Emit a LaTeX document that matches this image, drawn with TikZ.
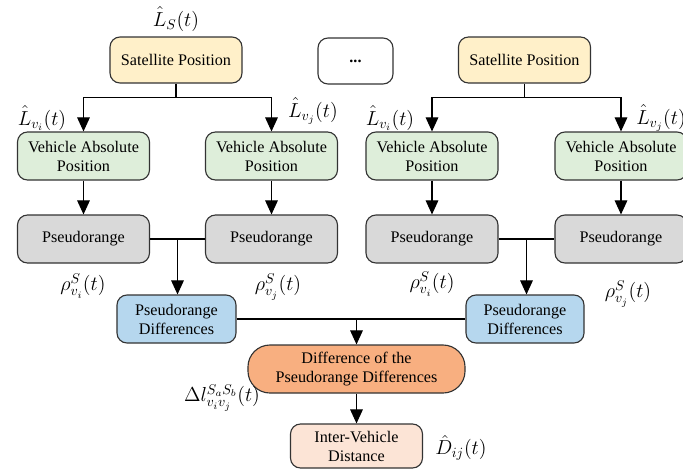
\documentclass[tikz,border=0pt]{standalone}
\usepackage{fontspec}
\setmainfont{Liberation Serif}
\usetikzlibrary{calc,arrows.meta}
\definecolor{satfill}{HTML}{FFF0C9}
\definecolor{vehfill}{HTML}{DEEEDA}
\definecolor{prfill}{HTML}{D9D9D9}
\definecolor{difffill}{HTML}{B6D7EE}
\definecolor{ddfill}{HTML}{F8AF80}
\definecolor{ivdfill}{HTML}{FCE4D6}
\tikzset{
	blk/.style={draw=black!80, line width=0.8pt, rounded corners=0.25cm, align=center,
		minimum width=3.3cm, minimum height=1.2cm, inner sep=1pt,
		font=\fontsize{11.5}{13.5}\selectfont},
	lbl/.style={inner sep=0pt, font=\fontsize{14}{16}\selectfont},
	arr/.style={line width=0.8pt, -{Triangle[width=9pt,length=10pt]}},
	ln/.style={line width=0.8pt}
}

\begin{document}
\begin{tikzpicture}[x=0.025cm, y=-0.025cm]
	%%%%% START %%%%%
	\useasboundingbox (0,0) rectangle (683,470);
	
	\node[blk, fill=satfill, minimum height=1.15cm] (sat1) at (176,60) {Satellite Position};
	\node[blk, fill=white, minimum width=1.875cm, minimum height=1.15cm] (dots) at (355.5,61) {\textbf{...}};
	\node[blk, fill=satfill, minimum height=1.15cm] (sat2) at (524.5,60) {Satellite Position};
	
	\node[blk, fill=vehfill] (veh1) at (83.5,156) {Vehicle Absolute\\Position};
	\node[blk, fill=vehfill] (veh2) at (271.5,156) {Vehicle Absolute\\Position};
	\node[blk, fill=vehfill] (veh3) at (432,156) {Vehicle Absolute\\Position};
	\node[blk, fill=vehfill] (veh4) at (621,156) {Vehicle Absolute\\Position};
	
	\node[blk, fill=prfill] (pr1) at (83.5,239) {Pseudorange};
	\node[blk, fill=prfill] (pr2) at (271.5,239) {Pseudorange};
	\node[blk, fill=prfill] (pr3) at (432,239) {Pseudorange};
	\node[blk, fill=prfill] (pr4) at (621,239) {Pseudorange};
	
	\node[blk, fill=difffill, minimum width=2.975cm] (diff1) at (176.5,319) {Pseudorange\\Differences};
	\node[blk, fill=difffill, minimum width=2.95cm] (diff2) at (525,319) {Pseudorange\\Differences};
	
	\node[blk, fill=ddfill, minimum width=5.425cm, rounded corners=0.55cm] (dd) at (356.5,369) {Difference of the\\Pseudorange Differences};
	\node[blk, fill=ivdfill, minimum height=1.1cm] (ivd) at (356.5,446) {Inter-Vehicle\\Distance};
	
	% satellite -> vehicles
	\coordinate (b1) at ($(sat1.south)+(0,14)$);
	\coordinate (b2) at ($(sat2.south)+(0,14)$);
	\draw[ln] (sat1) -- (b1);
	\draw[arr] (b1) -| (veh1);
	\draw[arr] (b1) -| (veh2);
	\draw[ln] (sat2) -- (b2);
	\draw[arr] (b2) -| (veh3);
	\draw[arr] (b2) -| (veh4);
	
	% vehicles -> pseudoranges
	\draw[arr] (veh1) -- (pr1);
	\draw[arr] (veh2) -- (pr2);
	\draw[arr] (veh3) -- (pr3);
	\draw[arr] (veh4) -- (pr4);
	
	% pseudoranges -> differences
	\draw[ln] (pr1) -- (pr2);
	\draw[ln] (pr3) -- (pr4);
	\coordinate (m1) at ($(pr1.east)!0.5!(pr2.west)$);
	\coordinate (m2) at ($(pr3.east)!0.5!(pr4.west)$);
	\draw[arr] (m1) -- (m1 |- diff1.north);
	\draw[arr] (m2) -- (m2 |- diff2.north);
	
	\draw[ln] (diff1) -- (diff2);
	\draw[arr] (dd.north |- diff1.east) -- (dd);
	\draw[arr] (dd) -- (ivd);
	
	% labels
	\node[lbl] (lS) at (176,19) {$\hat{L}_S(t)$};
	\node[lbl] (lvi1) at (42,118) {$\hat{L}_{v_i}(t)$};
	\node[lbl] (lvj1) at (313,111) {$\hat{L}_{v_j}(t)$};
	\node[lbl] (lvi2) at (390,118) {$\hat{L}_{v_i}(t)$};
	\node[lbl] (lvj2) at (661,118) {$\hat{L}_{v_j}(t)$};
	\node[lbl] (rho1) at (83,286) {$\rho^S_{v_i}(t)$};
	\node[lbl] (rho2) at (278,287) {$\rho^S_{v_j}(t)$};
	\node[lbl] (rho3) at (432,284) {$\rho^S_{v_i}(t)$};
	\node[lbl] (rho4) at (628,294) {$\rho^S_{v_j}(t)$};
	\node[lbl] (dl) at (222,398) {$\Delta l^{S_aS_b}_{v_iv_j}(t)$};
	\node[lbl] (dhat) at (461,448) {$\hat{D}_{ij}(t)$};
	%%%%% END %%%%%
\end{tikzpicture}
\end{document}
